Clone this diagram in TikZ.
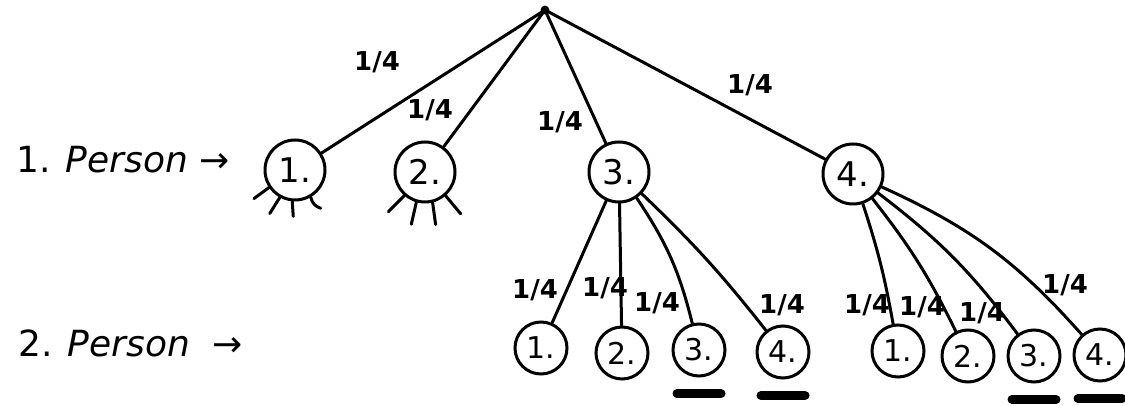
\documentclass[tikz,border=0pt]{standalone}
\usepackage{fontspec}
\setmainfont{DejaVu Sans}

\begin{document}
\begin{tikzpicture}[x=0.5pt,y=-0.5pt,line width=1.5pt,line cap=round,
  pers/.style={draw,circle,minimum size=30pt,inner sep=0pt,
    font=\fontsize{17}{17}\selectfont},
  sub/.style={draw,circle,minimum size=26pt,inner sep=0pt,
    font=\fontsize{15}{15}\selectfont},
  prob/.style={font=\fontsize{13}{13}\selectfont\bfseries},
  row/.style={anchor=west,font=\fontsize{18}{18}\selectfont},
  bar/.style={line width=4.5pt}]

\useasboundingbox (0,0) rectangle (1125,406);

% row labels
\node[row] (row1) at (8,160) {1. {\itshape Person} →};
\node[row] (row2) at (10,343) {2. {\itshape Person}\ \ →};

% root
\coordinate (top) at (545,10);
\fill (top) circle (2.2pt);

% first person
\node[pers] (p1) at (295,170) {1.};
\node[pers] (p2) at (425,172) {2.};
\node[pers] (p3) at (619,172) {3.};
\node[pers] (p4) at (853,174) {4.};

\draw (top) -- (p1);
\draw (top) -- (p2);
\draw (top) -- (p3);
\draw (top) -- (p4);

\node[prob] (w1) at (377,62) {1/4};
\node[prob] (w2) at (430,110) {1/4};
\node[prob] (w3) at (560,122) {1/4};
\node[prob] (w4) at (750,85) {1/4};

% legs of the leaves 1 and 2
\draw (p1.214) -- ++(-15,11);
\draw (p1.241) -- ++(-10,16);
\draw (p1.265) -- ++(1,15);
\draw (p1.300) to[bend right=30] ++(10,11);
\draw (p2.229) -- ++(-16,16);
\draw (p2.254) -- ++(-5,22);
\draw (p2.284) -- ++(3,22);
\draw (p2.311) -- ++(15,18);

% second person below 3.
\node[sub] (q31) at (541,348) {1.};
\node[sub] (q32) at (622,353) {2.};
\node[sub] (q33) at (699,350) {3.};
\node[sub] (q34) at (783,352) {4.};

\draw (p3) -- (q31);
\draw (p3) -- (q32);
\draw (p3) to[bend left=10] (q33);
\draw (p3) to[bend left=4] (q34);

\node[prob] (w31) at (535,290) {1/4};
\node[prob] (w32) at (605,288) {1/4};
\node[prob] (w33) at (657,303) {1/4};
\node[prob] (w34) at (782,305) {1/4};

% second person below 4.
\node[sub] (q41) at (898,351) {1.};
\node[sub] (q42) at (968,356) {2.};
\node[sub] (q43) at (1034,356) {3.};
\node[sub] (q44) at (1100,355) {4.};

\draw (p4) to[bend left=4] (q41);
\draw (p4) to[bend left=6] (q42);
\draw (p4) to[bend left=8] (q43);
\draw (p4) to[bend left=12] (q44);

\node[prob] (w41) at (867,305) {1/4};
\node[prob] (w42) at (922,307) {1/4};
\node[prob] (w43) at (982,313) {1/4};
\node[prob] (w44) at (1065,285) {1/4};

% marked outcomes
\foreach \q in {q33,q34,q43,q44}
  \draw[bar] ([xshift=-11pt,yshift=-8pt]\q.south)
    -- ([xshift=11pt,yshift=-8pt]\q.south);

\end{tikzpicture}
\end{document}
